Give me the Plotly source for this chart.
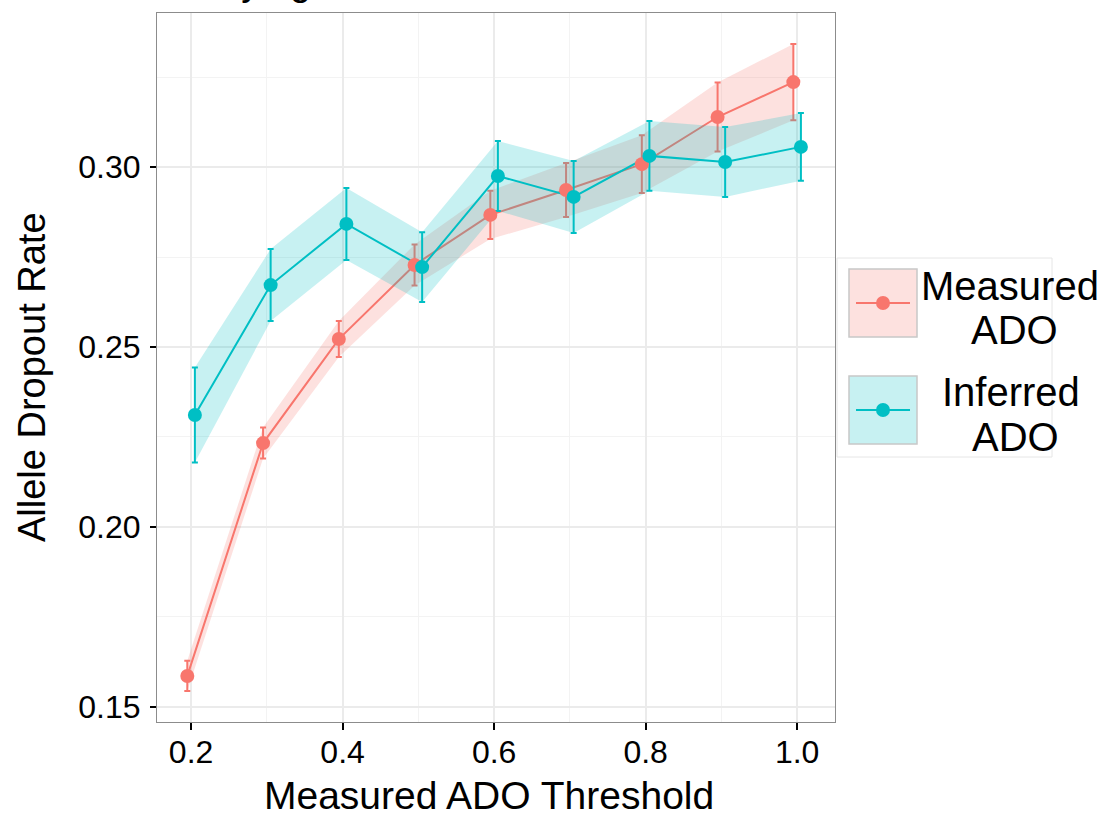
import plotly.graph_objects as go

thresholds = [0.2, 0.3, 0.4, 0.5, 0.6, 0.7, 0.8, 0.9, 1.0]

measured_ado = [0.1586, 0.2233, 0.2522, 0.2728, 0.2867, 0.2936, 0.3008, 0.3139, 0.3236]
measured_err = [0.0042, 0.0043, 0.0050, 0.0057, 0.0067, 0.0075, 0.0080, 0.0096, 0.0106]

inferred_ado = [0.2311, 0.2672, 0.2842, 0.2722, 0.2975, 0.2917, 0.3031, 0.3014, 0.3056]
inferred_err = [0.0132, 0.0100, 0.0100, 0.0097, 0.0097, 0.0100, 0.0097, 0.0097, 0.0094]

series_names = ["Measured ADO", "Inferred ADO"]
legend_lines = [["Measured", "ADO"], ["Inferred", "ADO"]]
dodge = [-0.005, 0.005]
colors = ["#F8766D", "#00BFC4"]
fills = ["rgba(248,118,109,0.22)", "rgba(0,191,196,0.22)"]

FONT = "Liberation Sans"

# panel in pixels
PL, PR, PT, PB = 157, 835, 13, 722
W, H = 1107, 817


def px(xp):
    return (xp - PL) / (PR - PL)


def py(yp):
    return (PB - yp) / (PB - PT)


fig = go.Figure()
data = [(measured_ado, measured_err), (inferred_ado, inferred_err)]

for (vals, errs), dx, c, fc in zip(data, dodge, colors, fills):
    xs = [t + dx for t in thresholds]
    upper = [v + e for v, e in zip(vals, errs)]
    lower = [v - e for v, e in zip(vals, errs)]
    fig.add_trace(go.Scatter(
        x=xs + xs[::-1], y=upper + lower[::-1], fill="toself",
        fillcolor=fc, line=dict(width=0), mode="lines",
        hoverinfo="skip", showlegend=False))
    fig.add_trace(go.Scatter(
        x=xs, y=vals, mode="lines",
        line=dict(color=c, width=2),
        error_y=dict(type="data", array=errs, color=c, thickness=2, width=3),
        hoverinfo="skip", showlegend=False))

for (vals, errs), dx, c, name in zip(data, dodge, colors, series_names):
    xs = [t + dx for t in thresholds]
    fig.add_trace(go.Scatter(
        x=xs, y=vals, mode="markers", name=name,
        marker=dict(color=c, size=14), showlegend=False))

# manual legend (ggplot-style keys with ribbon background)
shapes = []
annotations = []
shapes.append(dict(type="rect", xref="paper", yref="paper",
                   x0=px(837), x1=px(1052), y0=py(457), y1=py(258),
                   line=dict(color="#e6e6e6", width=1), fillcolor="white", layer="below"))
key_tops = [269, 376]
text_rows = [(286, 330), (392, 437)]
text_cx = [(1010, 1014), (1011, 1015)]
for i, (c, fc, lines) in enumerate(zip(colors, fills, legend_lines)):
    top = key_tops[i]
    bot = top + 68
    mid = (top + bot) / 2
    shapes.append(dict(type="rect", xref="paper", yref="paper",
                       x0=px(849), x1=px(917), y0=py(bot), y1=py(top),
                       line=dict(color="#c8c8c8", width=1.5), fillcolor=fc))
    shapes.append(dict(type="line", xref="paper", yref="paper",
                       x0=px(856), x1=px(910), y0=py(mid), y1=py(mid),
                       line=dict(color=c, width=2)))
    shapes.append(dict(type="circle", xref="paper", yref="paper",
                       x0=px(876), x1=px(890), y0=py(mid + 7), y1=py(mid - 7),
                       line=dict(color=c, width=0), fillcolor=c))
    for line_text, ty, tx in zip(lines, text_rows[i], text_cx[i]):
        annotations.append(dict(xref="paper", yref="paper", x=px(tx), y=py(ty),
                                text=line_text, showarrow=False,
                                xanchor="center", yanchor="middle",
                                font=dict(family=FONT, size=40, color="black")))

# clipped title at the top
annotations.append(dict(xref="paper", yref="paper", x=px(183), y=py(5),
                        text="Varying Threshold", showarrow=False,
                        xanchor="left", yanchor="bottom",
                        font=dict(family=FONT, size=38, color="black")))

# axis titles
annotations.append(dict(xref="paper", yref="paper", x=px(489), y=py(795),
                        text="Measured ADO Threshold", showarrow=False,
                        xanchor="center", yanchor="middle",
                        font=dict(family=FONT, size=39, color="black")))
annotations.append(dict(xref="paper", yref="paper", x=px(32), y=py(377),
                        text="Allele Dropout Rate", showarrow=False, textangle=-90,
                        xanchor="center", yanchor="middle",
                        font=dict(family=FONT, size=38, color="black")))

fig.update_layout(
    width=W, height=H,
    margin=dict(l=PL, r=W - PR, t=PT, b=H - PB),
    paper_bgcolor="white", plot_bgcolor="white",
    font=dict(family=FONT, color="black"),
    shapes=shapes, annotations=annotations,
    showlegend=False,
)

fig.update_xaxes(
    range=[0.155, 1.05], tickvals=[0.2, 0.4, 0.6, 0.8, 1.0],
    ticktext=["0.2", "0.4", "0.6", "0.8", "1.0"],
    ticks="outside", ticklen=7, tickwidth=1.5, tickcolor="black",
    tickfont=dict(family=FONT, size=32, color="black"),
    showgrid=True, gridcolor="#ebebeb", gridwidth=1.5,
    minor=dict(tickvals=[0.3, 0.5, 0.7, 0.9], showgrid=True, gridcolor="#f3f3f3", gridwidth=1.2, ticks=""),
    showline=True, mirror=True, linecolor="#8c8c8c", linewidth=1.2,
    zeroline=False, automargin=False, ticklabelstandoff=-6,
)
fig.update_yaxes(
    range=[0.1458, 0.3428], tickvals=[0.15, 0.20, 0.25, 0.30],
    ticktext=["0.15", "0.20", "0.25", "0.30"],
    ticks="outside", ticklen=6, tickwidth=1.5, tickcolor="black",
    tickfont=dict(family=FONT, size=32, color="black"),
    showgrid=True, gridcolor="#ebebeb", gridwidth=1.5,
    minor=dict(tickvals=[0.175, 0.225, 0.275, 0.325], showgrid=True, gridcolor="#f3f3f3", gridwidth=1.2, ticks=""),
    showline=True, mirror=True, linecolor="#8c8c8c", linewidth=1.2,
    zeroline=False, automargin=False, ticklabelstandoff=3,
)

fig.write_html("out.html", config={"displayModeBar": False},
               post_script="document.body.style.margin='0';")
